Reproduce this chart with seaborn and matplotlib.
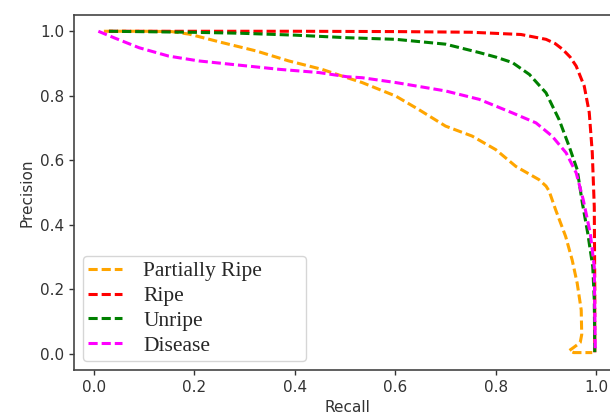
import matplotlib
matplotlib.use("Agg")
import matplotlib.pyplot as plt
import seaborn as sns
import pandas as pd

#%% DATA
# Precision-recall curves
labels = ["Partially Ripe", "Ripe", "Unripe", "Disease"]
colors = ["orange", "red", "green", "magenta"]

partially_recall = [0.02, 0.10, 0.155, 0.19, 0.255, 0.323, 0.388, 0.454, 0.504, 0.534,
                    0.601, 0.647, 0.70, 0.753, 0.80, 0.84, 0.886, 0.90, 0.906, 0.919,
                    0.939, 0.952, 0.962, 0.97, 0.971, 0.968, 0.955, 0.946, 0.955, 0.992]
partially_precision = [1.0, 1.0, 0.999, 0.991, 0.965, 0.939, 0.908, 0.882, 0.856, 0.841,
                       0.799, 0.757, 0.706, 0.675, 0.633, 0.581, 0.54, 0.52, 0.505, 0.447,
                       0.364, 0.291, 0.219, 0.136, 0.06, 0.035, 0.02, 0.01, 0.004, 0.004]

ripe_recall = [0.03, 0.2, 0.4, 0.6, 0.75, 0.85, 0.9, 0.918, 0.933, 0.948, 0.96, 0.976,
               0.986, 0.992, 0.996, 0.997, 0.997]
ripe_precision = [1.0, 1.0, 1.0, 0.999, 0.997, 0.99, 0.975, 0.962, 0.944, 0.92, 0.892, 0.83,
                  0.748, 0.624, 0.456, 0.2, 0.005]

unripe_recall = [0.03, 0.19, 0.289, 0.40, 0.504, 0.601, 0.70, 0.767, 0.80, 0.833, 0.867,
                 0.90, 0.926, 0.946, 0.962, 0.972, 0.983, 0.993, 0.996, 0.997]
unripe_precision = [1.0, 0.997, 0.994, 0.988, 0.98, 0.975, 0.96, 0.934, 0.92, 0.903, 0.866,
                    0.809, 0.726, 0.643, 0.571, 0.47, 0.374, 0.27, 0.167, 0.005]

disease_recall = [0.009, 0.04, 0.09, 0.149, 0.209, 0.289, 0.369, 0.448, 0.504, 0.534,
                  0.601, 0.70, 0.767, 0.833, 0.88, 0.912, 0.94, 0.96, 0.974, 0.988,
                  0.996, 0.998]
disease_precision = [1.0, 0.98, 0.949, 0.923, 0.908, 0.895, 0.882, 0.872, 0.859, 0.856,
                     0.841, 0.815, 0.789, 0.747, 0.716, 0.675, 0.623, 0.561, 0.478, 0.374,
                     0.27, 0.005]

curves = [
    (partially_recall, partially_precision),
    (ripe_recall, ripe_precision),
    (unripe_recall, unripe_precision),
    (disease_recall, disease_precision),
]

#%% PLOT
sns.set_style("ticks")
plt.rcParams["font.family"] = ["DejaVu Sans"]

fig = plt.figure(figsize=(6.10, 4.18), dpi=100)
ax = fig.add_axes([0.1213, 0.1148, 0.897, 0.849])

for (rec, prec), lab, col in zip(curves, labels, colors):
    df = pd.DataFrame({"Recall": rec, "Precision": prec})
    sns.lineplot(data=df, x="Recall", y="Precision", sort=False, estimator=None,
                 color=col, label=lab, linewidth=2.2, dashes=False, ax=ax)
    ax.lines[-1].set_dashes((3.0, 1.3))

ax.set_xlim(-0.0395, 1.0495)
ax.set_ylim(-0.05, 1.05)
ax.set_xticks([0.0, 0.2, 0.4, 0.6, 0.8, 1.0])
ax.set_yticks([0.0, 0.2, 0.4, 0.6, 0.8, 1.0])
ax.tick_params(labelsize=11, colors="#333333", width=1.0)
ax.set_xlabel("Recall", fontsize=11, color="#333333")
ax.set_ylabel("Precision", fontsize=11, color="#333333")
for s in ax.spines.values():
    s.set_color("#444444")
    s.set_linewidth(1.2)

# legend frame is wider than its text in the reference
ax.legend(loc="lower left", bbox_to_anchor=(0.0165, 0.025, 0.4075, 0.3), mode="expand",
          prop={"family": "Liberation Serif", "size": 15.5},
          handlelength=1.55, handletextpad=1.0, labelspacing=0.22,
          borderaxespad=0.0, borderpad=0.25, frameon=True, edgecolor="0.8")

fig.savefig("out.png", dpi=100)
